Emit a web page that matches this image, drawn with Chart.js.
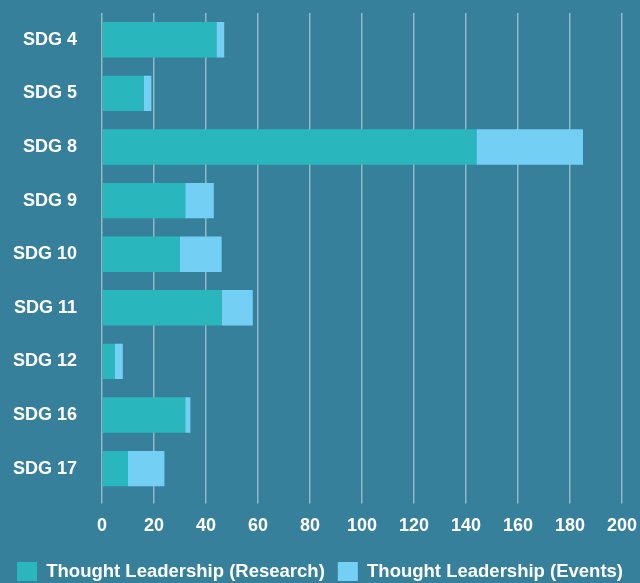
<!DOCTYPE html>
<html>
<head>
<meta charset="utf-8">
<script src="https://cdn.jsdelivr.net/npm/chart.js@4/dist/chart.umd.min.js"></script>
<style>
  html, body { margin: 0; padding: 0; background: #36809b; }
  #wrap { width: 640px; height: 583px; }
</style>
</head>
<body>
<div id="wrap"><canvas id="c" width="640" height="583"></canvas></div>
<script>
// SDG categories and the two thought-leadership series
const categories = ['SDG 4', 'SDG 5', 'SDG 8', 'SDG 9', 'SDG 10', 'SDG 11', 'SDG 12', 'SDG 16', 'SDG 17'];
const researchValues = [44, 16, 144, 32, 30, 46, 5, 32, 10];
const eventsValues = [3, 3, 41, 11, 16, 12, 3, 2, 14];
const seriesNames = ['Thought Leadership (Research)', 'Thought Leadership (Events)'];
const xTickMax = 200;
const xTickStep = 20;

const FONT = "'Liberation Sans', Arial, sans-serif";
const WHITE = '#ffffff';
const GRID = 'rgba(255,255,255,0.45)';

new Chart(document.getElementById('c'), {
  type: 'bar',
  data: {
    labels: categories,
    datasets: [
      {
        label: seriesNames[0],
        data: researchValues,
        backgroundColor: '#29b7bd',
        borderWidth: 0,
        categoryPercentage: 1,
        barPercentage: 0.66
      },
      {
        label: seriesNames[1],
        data: eventsValues,
        backgroundColor: '#74cff5',
        borderWidth: 0,
        categoryPercentage: 1,
        barPercentage: 0.66
      }
    ]
  },
  options: {
    indexAxis: 'y',
    responsive: false,
    animation: false,
    layout: { padding: { left: 0, right: 0, top: 13, bottom: -8 } },
    scales: {
      x: {
        stacked: true,
        min: 0,
        max: xTickMax,
        border: { display: false },
        grid: { color: GRID, lineWidth: 1.5, drawTicks: true, tickLength: 8, tickColor: GRID },
        // keep only a small margin to the right of the last gridline
        afterFit: (scale) => { scale.paddingRight = 18; },
        ticks: {
          stepSize: xTickStep,
          color: WHITE,
          padding: 12,
          font: { family: FONT, size: 18, weight: 'bold' }
        }
      },
      y: {
        stacked: true,
        border: { display: false },
        // invisible tick marks keep the category labels clear of the bars
        grid: { color: 'rgba(0,0,0,0)', drawTicks: true, tickLength: 25, tickColor: 'rgba(0,0,0,0)' },
        afterFit: (scale) => { scale.width = 102; },
        ticks: {
          color: WHITE,
          padding: 0,
          font: { family: FONT, size: 18, weight: 'bold' }
        }
      }
    },
    plugins: {
      legend: {
        position: 'bottom',
        labels: {
          color: WHITE,
          boxWidth: 20,
          boxHeight: 19,
          padding: 13,
          font: { family: FONT, size: 18.5, weight: 'bold' }
        }
      },
      tooltip: { enabled: false }
    }
  }
});
</script>
</body>
</html>
